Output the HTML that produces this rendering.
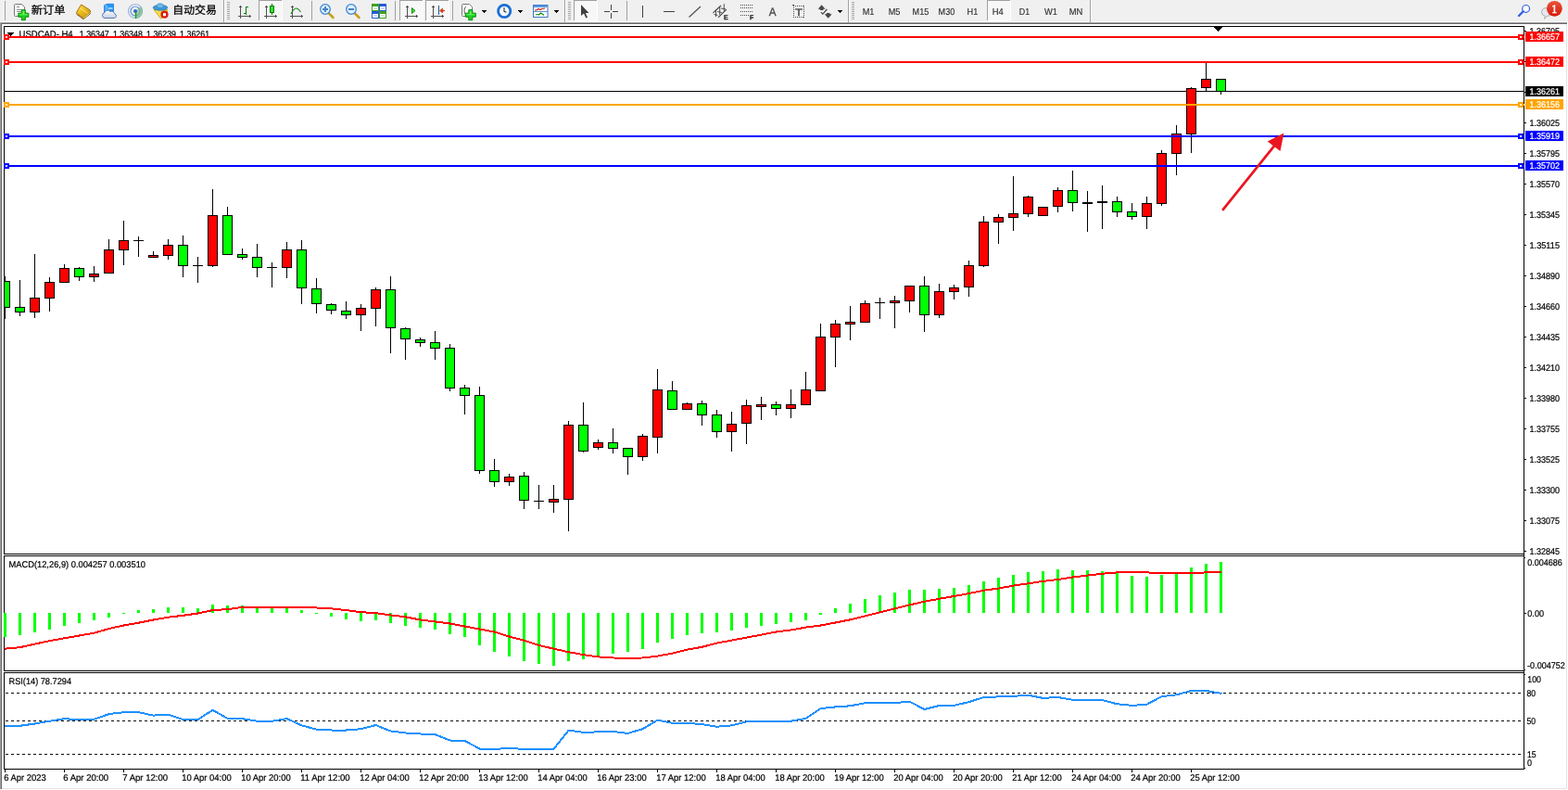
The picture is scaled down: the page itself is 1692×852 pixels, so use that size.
<!DOCTYPE html>
<html lang="zh-CN"><head><meta charset="utf-8"><title>USDCAD H4</title>
<style>
html,body{margin:0;padding:0;background:#fff;overflow:hidden}
body{width:1692px;height:852px;font-family:"Liberation Sans","Noto Sans CJK SC",sans-serif}
svg{display:block;position:absolute;left:0;top:0}
text{white-space:pre}
</style></head><body>
<svg width="1692" height="852" viewBox="0 0 1692 852">
<defs>
<pattern id="chk" width="2" height="2" patternUnits="userSpaceOnUse"><rect width="2" height="2" fill="#fff"/><rect width="1" height="1" fill="#f0f0f0"/><rect x="1" y="1" width="1" height="1" fill="#f0f0f0"/></pattern>
<linearGradient id="gold" x1="0" y1="0" x2="1" y2="1"><stop offset="0" stop-color="#f8e060"/><stop offset=".5" stop-color="#e8b818"/><stop offset="1" stop-color="#c08810"/></linearGradient>
<linearGradient id="cloud" x1="0" y1="0" x2="0" y2="1"><stop offset="0" stop-color="#fff"/><stop offset="1" stop-color="#c4d0e6"/></linearGradient>
<linearGradient id="redg" x1="0" y1="0" x2="0" y2="1"><stop offset="0" stop-color="#e8553a"/><stop offset="1" stop-color="#d81808"/></linearGradient>
</defs>
<rect width="1692" height="852" fill="#fff"/>
<g shape-rendering="crispEdges">
<rect x="0" y="0" width="1692" height="23" fill="#f0f0f0"/>
<rect x="0" y="23" width="1692" height="1" fill="#f7f7f7"/>
<rect x="0" y="24" width="1691" height="1" fill="#a0a0a0"/>
<rect x="1" y="25" width="1690" height="1" fill="#696969"/>
<rect x="5" y="1" width="1" height="21" fill="#a0a0a0"/>
<rect x="336" y="1" width="1" height="21" fill="#a0a0a0"/>
<rect x="426" y="1" width="1" height="21" fill="#a0a0a0"/>
<rect x="488" y="1" width="1" height="21" fill="#a0a0a0"/>
<rect x="676" y="1" width="1" height="21" fill="#a0a0a0"/>
<rect x="241" y="0" width="1" height="24" fill="#a0a0a0"/><rect x="242" y="0" width="1" height="24" fill="#fff"/>
<rect x="609" y="0" width="1" height="24" fill="#a0a0a0"/><rect x="610" y="0" width="1" height="24" fill="#fff"/>
<rect x="915" y="0" width="1" height="24" fill="#a0a0a0"/><rect x="916" y="0" width="1" height="24" fill="#fff"/>
<rect x="1176" y="0" width="1" height="24" fill="#a0a0a0"/><rect x="1177" y="0" width="1" height="24" fill="#fff"/>
<rect x="245" y="2" width="3" height="1" fill="#a8a8a8"/>
<rect x="245" y="4" width="3" height="1" fill="#a8a8a8"/>
<rect x="245" y="6" width="3" height="1" fill="#a8a8a8"/>
<rect x="245" y="8" width="3" height="1" fill="#a8a8a8"/>
<rect x="245" y="10" width="3" height="1" fill="#a8a8a8"/>
<rect x="245" y="12" width="3" height="1" fill="#a8a8a8"/>
<rect x="245" y="14" width="3" height="1" fill="#a8a8a8"/>
<rect x="245" y="16" width="3" height="1" fill="#a8a8a8"/>
<rect x="245" y="18" width="3" height="1" fill="#a8a8a8"/>
<rect x="245" y="20" width="3" height="1" fill="#a8a8a8"/>
<rect x="613" y="2" width="3" height="1" fill="#a8a8a8"/>
<rect x="613" y="4" width="3" height="1" fill="#a8a8a8"/>
<rect x="613" y="6" width="3" height="1" fill="#a8a8a8"/>
<rect x="613" y="8" width="3" height="1" fill="#a8a8a8"/>
<rect x="613" y="10" width="3" height="1" fill="#a8a8a8"/>
<rect x="613" y="12" width="3" height="1" fill="#a8a8a8"/>
<rect x="613" y="14" width="3" height="1" fill="#a8a8a8"/>
<rect x="613" y="16" width="3" height="1" fill="#a8a8a8"/>
<rect x="613" y="18" width="3" height="1" fill="#a8a8a8"/>
<rect x="613" y="20" width="3" height="1" fill="#a8a8a8"/>
<rect x="919" y="2" width="3" height="1" fill="#a8a8a8"/>
<rect x="919" y="4" width="3" height="1" fill="#a8a8a8"/>
<rect x="919" y="6" width="3" height="1" fill="#a8a8a8"/>
<rect x="919" y="8" width="3" height="1" fill="#a8a8a8"/>
<rect x="919" y="10" width="3" height="1" fill="#a8a8a8"/>
<rect x="919" y="12" width="3" height="1" fill="#a8a8a8"/>
<rect x="919" y="14" width="3" height="1" fill="#a8a8a8"/>
<rect x="919" y="16" width="3" height="1" fill="#a8a8a8"/>
<rect x="919" y="18" width="3" height="1" fill="#a8a8a8"/>
<rect x="919" y="20" width="3" height="1" fill="#a8a8a8"/>
<rect x="279" y="0" width="26" height="23" fill="url(#chk)"/>
<rect x="279" y="0" width="25" height="1" fill="#a0a0a0"/><rect x="279" y="0" width="1" height="22" fill="#a0a0a0"/>
<rect x="304" y="0" width="1" height="23" fill="#fff"/><rect x="279" y="22" width="26" height="1" fill="#fff"/>
<rect x="431" y="0" width="26" height="23" fill="url(#chk)"/>
<rect x="431" y="0" width="25" height="1" fill="#a0a0a0"/><rect x="431" y="0" width="1" height="22" fill="#a0a0a0"/>
<rect x="456" y="0" width="1" height="23" fill="#fff"/><rect x="431" y="22" width="26" height="1" fill="#fff"/>
<rect x="459" y="0" width="26" height="23" fill="url(#chk)"/>
<rect x="459" y="0" width="25" height="1" fill="#a0a0a0"/><rect x="459" y="0" width="1" height="22" fill="#a0a0a0"/>
<rect x="484" y="0" width="1" height="23" fill="#fff"/><rect x="459" y="22" width="26" height="1" fill="#fff"/>
<rect x="619" y="0" width="26" height="23" fill="url(#chk)"/>
<rect x="619" y="0" width="25" height="1" fill="#a0a0a0"/><rect x="619" y="0" width="1" height="22" fill="#a0a0a0"/>
<rect x="644" y="0" width="1" height="23" fill="#fff"/><rect x="619" y="22" width="26" height="1" fill="#fff"/>
<rect x="1065" y="0" width="26" height="23" fill="url(#chk)"/>
<rect x="1065" y="0" width="25" height="1" fill="#a0a0a0"/><rect x="1065" y="0" width="1" height="22" fill="#a0a0a0"/>
<rect x="1090" y="0" width="1" height="23" fill="#fff"/><rect x="1065" y="22" width="26" height="1" fill="#fff"/>
<rect x="259" y="7" width="1" height="13" fill="#505050"/><rect x="257" y="17" width="13" height="1" fill="#505050"/>
<rect x="258" y="7" width="3" height="1" fill="#505050"/><rect x="259" y="6" width="1" height="1" fill="#505050"/>
<rect x="269" y="16" width="1" height="3" fill="#505050"/><rect x="270" y="17" width="1" height="1" fill="#505050"/>
<rect x="287" y="7" width="1" height="13" fill="#505050"/><rect x="285" y="17" width="13" height="1" fill="#505050"/>
<rect x="286" y="7" width="3" height="1" fill="#505050"/><rect x="287" y="6" width="1" height="1" fill="#505050"/>
<rect x="297" y="16" width="1" height="3" fill="#505050"/><rect x="298" y="17" width="1" height="1" fill="#505050"/>
<rect x="315" y="7" width="1" height="13" fill="#505050"/><rect x="313" y="17" width="13" height="1" fill="#505050"/>
<rect x="314" y="7" width="3" height="1" fill="#505050"/><rect x="315" y="6" width="1" height="1" fill="#505050"/>
<rect x="325" y="16" width="1" height="3" fill="#505050"/><rect x="326" y="17" width="1" height="1" fill="#505050"/>
<rect x="439" y="7" width="1" height="13" fill="#505050"/><rect x="437" y="17" width="13" height="1" fill="#505050"/>
<rect x="438" y="7" width="3" height="1" fill="#505050"/><rect x="439" y="6" width="1" height="1" fill="#505050"/>
<rect x="449" y="16" width="1" height="3" fill="#505050"/><rect x="450" y="17" width="1" height="1" fill="#505050"/>
<rect x="467" y="7" width="1" height="13" fill="#505050"/><rect x="465" y="17" width="13" height="1" fill="#505050"/>
<rect x="466" y="7" width="3" height="1" fill="#505050"/><rect x="467" y="6" width="1" height="1" fill="#505050"/>
<rect x="477" y="16" width="1" height="3" fill="#505050"/><rect x="478" y="17" width="1" height="1" fill="#505050"/>
<rect x="265" y="7" width="1" height="9" fill="#008000"/><rect x="266" y="7" width="2" height="1" fill="#008000"/><rect x="263" y="14" width="2" height="1" fill="#008000"/>
<rect x="293" y="4" width="1" height="12" fill="#008000"/><rect x="291" y="6" width="5" height="8" fill="#008000"/><rect x="292" y="7" width="3" height="6" fill="#30e030"/>
<rect x="659" y="5" width="1" height="6" fill="#404040"/><rect x="659" y="14" width="1" height="6" fill="#404040"/><rect x="652" y="12" width="6" height="1" fill="#404040"/><rect x="661" y="12" width="6" height="1" fill="#404040"/>
<rect x="693" y="6" width="1" height="13" fill="#404040"/><rect x="716" y="12" width="12" height="1" fill="#404040"/>
<rect x="473" y="6" width="1" height="10" fill="#1060a0"/>
<rect x="799" y="5" width="1" height="1" fill="#505050"/>
<rect x="801" y="5" width="1" height="1" fill="#505050"/>
<rect x="803" y="5" width="1" height="1" fill="#505050"/>
<rect x="805" y="5" width="1" height="1" fill="#505050"/>
<rect x="807" y="5" width="1" height="1" fill="#505050"/>
<rect x="809" y="5" width="1" height="1" fill="#505050"/>
<rect x="811" y="5" width="1" height="1" fill="#505050"/>
<rect x="799" y="8" width="1" height="1" fill="#505050"/>
<rect x="801" y="8" width="1" height="1" fill="#505050"/>
<rect x="803" y="8" width="1" height="1" fill="#505050"/>
<rect x="805" y="8" width="1" height="1" fill="#505050"/>
<rect x="807" y="8" width="1" height="1" fill="#505050"/>
<rect x="809" y="8" width="1" height="1" fill="#505050"/>
<rect x="811" y="8" width="1" height="1" fill="#505050"/>
<rect x="799" y="12" width="1" height="1" fill="#505050"/>
<rect x="801" y="12" width="1" height="1" fill="#505050"/>
<rect x="803" y="12" width="1" height="1" fill="#505050"/>
<rect x="805" y="12" width="1" height="1" fill="#505050"/>
<rect x="807" y="12" width="1" height="1" fill="#505050"/>
<rect x="809" y="12" width="1" height="1" fill="#505050"/>
<rect x="811" y="12" width="1" height="1" fill="#505050"/>
<rect x="799" y="16" width="1" height="1" fill="#505050"/>
<rect x="801" y="16" width="1" height="1" fill="#505050"/>
<rect x="803" y="16" width="1" height="1" fill="#505050"/>
<rect x="805" y="16" width="1" height="1" fill="#505050"/>
<rect x="807" y="16" width="1" height="1" fill="#505050"/>
<rect x="856" y="6" width="1" height="1" fill="#505050"/><rect x="856" y="18" width="1" height="1" fill="#505050"/>
<rect x="858" y="6" width="1" height="1" fill="#505050"/><rect x="858" y="18" width="1" height="1" fill="#505050"/>
<rect x="860" y="6" width="1" height="1" fill="#505050"/><rect x="860" y="18" width="1" height="1" fill="#505050"/>
<rect x="862" y="6" width="1" height="1" fill="#505050"/><rect x="862" y="18" width="1" height="1" fill="#505050"/>
<rect x="864" y="6" width="1" height="1" fill="#505050"/><rect x="864" y="18" width="1" height="1" fill="#505050"/>
<rect x="866" y="6" width="1" height="1" fill="#505050"/><rect x="866" y="18" width="1" height="1" fill="#505050"/>
<rect x="856" y="6" width="1" height="1" fill="#505050"/><rect x="867" y="6" width="1" height="1" fill="#505050"/>
<rect x="856" y="8" width="1" height="1" fill="#505050"/><rect x="867" y="8" width="1" height="1" fill="#505050"/>
<rect x="856" y="10" width="1" height="1" fill="#505050"/><rect x="867" y="10" width="1" height="1" fill="#505050"/>
<rect x="856" y="12" width="1" height="1" fill="#505050"/><rect x="867" y="12" width="1" height="1" fill="#505050"/>
<rect x="856" y="14" width="1" height="1" fill="#505050"/><rect x="867" y="14" width="1" height="1" fill="#505050"/>
<rect x="856" y="16" width="1" height="1" fill="#505050"/><rect x="867" y="16" width="1" height="1" fill="#505050"/>
<rect x="856" y="18" width="1" height="1" fill="#505050"/><rect x="867" y="18" width="1" height="1" fill="#505050"/>
</g>
<path d="M520 11h5v1h-1v1h-1v1h-1v-1h-1v-1h-1z" fill="#000" shape-rendering="crispEdges"/>
<path d="M559 11h5v1h-1v1h-1v1h-1v-1h-1v-1h-1z" fill="#000" shape-rendering="crispEdges"/>
<path d="M598 11h5v1h-1v1h-1v1h-1v-1h-1v-1h-1z" fill="#000" shape-rendering="crispEdges"/>
<path d="M904 11h5v1h-1v1h-1v1h-1v-1h-1v-1h-1z" fill="#000" shape-rendering="crispEdges"/>
<path d="M15.5 5.5q0-1 1-1h7l3 3v9q0 1-1 1h-9q-1 0-1-1z" fill="#fff" stroke="#787878"/>
<path d="M18 7.5h3M18 10.5h6M18 12.5h5" stroke="#909090" fill="none"/>
<path d="M23.3 10.7h4v3.5h3.5v4h-3.5v3.5h-4v-3.5h-3.5v-4h3.5z" fill="#1fd21f" stroke="#0a8a0a" stroke-width="1"/>
<path d="M24.3 11.7h2v3.5h3.5v1h-9v-1h3.5z" fill="#7dff7d" opacity=".7"/>
<path d="M498.5 5.5q0-1 1-1h7l3 3v9q0 1-1 1h-9q-1 0-1-1z" fill="#fff" stroke="#787878"/>
<path d="M503 7.5q-1.5 0-1.5 1.5v1.5q0 1-1 1 1 0 1 1v1.5q0 1.5 1.5 1.5" stroke="#606050" fill="none" stroke-width="0.9"/>
<path d="M505.8 10.7h4v3.5h3.5v4h-3.5v3.5h-4v-3.5h-3.5v-4h3.5z" fill="#1fd21f" stroke="#0a8a0a" stroke-width="1"/>
<path d="M506.8 11.7h2v3.5h3.5v1h-9v-1h3.5z" fill="#7dff7d" opacity=".7"/>
<path d="M87.700 5Q84.5 9.5 82.3 14L90 19.6L97.700 13.2L96.8 10.700Z" fill="url(#gold)" stroke="#a8720c" stroke-width="1" stroke-linejoin="round"/><path d="M86.5 8.5L94.5 14.5" stroke="#fff4a0" stroke-width="1.4" opacity=".55" fill="none"/>
<path d="M82.5 15.2L90 20.700L98 14.3" fill="none" stroke="#8a5a08" stroke-width="1"/><path d="M90.2 19.700L97.5 13.8" fill="none" stroke="#f8e8b0" stroke-width=".8"/>
<path d="M112.5 5.5L116 4.3h6.5v10h-10z" fill="#2496f4" stroke="#1a78d8" stroke-width=".8"/><path d="M112.8 5.8L115.8 7v7" fill="none" stroke="#8fd0ff" stroke-width="1"/><path d="M113 5.5h2.5v8h-2.5z" fill="#5cb8ff" opacity=".7"/>
<path d="M117 9h4.5" stroke="#e8f6ff" stroke-width="1.2"/>
<path d="M113 19.5a2.9 2.9 0 0 1-.3-5.700a3.6 3.6 0 0 1 6.3-1.3a3.2 3.2 0 0 1 4.6 2.3a2.4 2.4 0 0 1-.2 4.700z" fill="url(#cloud)" stroke="#5a78b8" stroke-width="1"/>
<circle cx="146" cy="12" r="7.5" fill="none" stroke="#9ab8e0" stroke-width="1.2"/>
<circle cx="146" cy="12" r="5" fill="none" stroke="#6a94d8" stroke-width="1.2"/>
<path d="M146 12v8a8 8 0 0 0 8-8a8 8 0 0 0-2-5" fill="#6ab878" opacity=".6"/>
<circle cx="146" cy="12" r="2" fill="#2a62d0"/>
<path d="M146.5 13v7" stroke="#20a020" stroke-width="1.5"/>
<path d="M166 10.5h14.5l-.5 5-6.5 4.5z" fill="#f8dc48" stroke="#c89c10" stroke-width=".8"/>
<ellipse cx="173" cy="8.3" rx="7.8" ry="2.9" fill="#3f98d8" stroke="#2a78ae" stroke-width=".8"/><ellipse cx="172.8" cy="6.3" rx="3.8" ry="2.5" fill="#6fb8ea" stroke="#2f80b8" stroke-width=".6"/>
<circle cx="177.5" cy="15.700" r="4.1" fill="#d8200f"/><rect x="176" y="14.2" width="3" height="3" fill="#fff"/>
<path d="M314 15q3-6 5.5-6t5 4" fill="none" stroke="#1a8a1a" stroke-width="1.2"/>
<path d="M354.5 14l5 5" stroke="#c8a020" stroke-width="2.6" stroke-linecap="round"/>
<circle cx="351" cy="10" r="5.3" fill="#dff0ff" stroke="#3b86d8" stroke-width="1.3"/>
<rect x="348" y="9" width="6" height="2" fill="#4a84c0"/>
<rect x="350" y="7" width="2" height="6" fill="#4a84c0"/>
<path d="M382.5 14l5 5" stroke="#c8a020" stroke-width="2.6" stroke-linecap="round"/>
<circle cx="379" cy="10" r="5.3" fill="#dff0ff" stroke="#3b86d8" stroke-width="1.3"/>
<rect x="376" y="9" width="6" height="2" fill="#4a84c0"/>
<rect x="401" y="4" width="8" height="8" fill="#3fa020"/><rect x="402" y="7" width="6" height="4" fill="#fff"/><rect x="403" y="8.5" width="4" height="1" fill="#3fa020" opacity=".5"/>
<rect x="409" y="4" width="8" height="8" fill="#2a5ad8"/><rect x="410" y="7" width="6" height="4" fill="#fff"/><rect x="411" y="8.5" width="4" height="1" fill="#2a5ad8" opacity=".5"/>
<rect x="401" y="12" width="8" height="8" fill="#2a5ad8"/><rect x="402" y="15" width="6" height="4" fill="#fff"/><rect x="403" y="16.5" width="4" height="1" fill="#2a5ad8" opacity=".5"/>
<rect x="409" y="12" width="8" height="8" fill="#3fa020"/><rect x="410" y="15" width="6" height="4" fill="#fff"/><rect x="411" y="16.5" width="4" height="1" fill="#3fa020" opacity=".5"/>
<path d="M444.5 8.5l3.5 3-3.5 3z" fill="#40e040" stroke="#108a10" stroke-width="1"/>
<path d="M474.5 11.5l3-2.5v2h2v1h-2v2z" fill="#e04010" stroke="#c03000" stroke-width=".6"/>
<circle cx="544.2" cy="12" r="6.6" fill="#fafcff" stroke="#1a6fd6" stroke-width="2.8"/>
<path d="M544 8v4.3l2.5 1" stroke="#303030" stroke-width="1.1" fill="none"/>
<rect x="575.5" y="5.5" width="15.5" height="13" fill="#fff" stroke="#3a78c8" stroke-width="1"/>
<rect x="576" y="6" width="14.5" height="2" fill="#5a9ae0"/><path d="M576 12.5h15" stroke="#3a78c8" stroke-width=".8"/>
<path d="M577 11h2l2-1.5 2 1 2-1 3-.5" stroke="#c02010" stroke-width="1.2" fill="none"/>
<path d="M578 16l2-.5 1.5.5 2-2 1.5 1 2 1.5" stroke="#108a10" stroke-width="1.2" fill="none"/>
<path d="M627 5v12l3-2.5 2.3 5 1.700-.8-2.2-4.700h3.700z" fill="#404040"/>
<path d="M743.5 18.5l12.5-11.5" stroke="#505050" stroke-width="1.2"/>
<path d="M769.5 13.8L778 6M775 18.8L784 10.2" stroke="#404040" stroke-width="1.1" fill="none"/><path d="M772.5 10.5v7.5M776.700 8v8.2M781.3 4.2v8M770.5 15.5l4 1M774 12.5l5 1M778 9l5 .8" stroke="#404040" stroke-width=".9" fill="none"/>
<path d="M882.6 9.8L886.6 5.3L890.6 9.8h-2.2v1.2h-3.6v-1.2zM889.700 15.2h2.2v-1.2h3.6v1.2h2.2L893.700 19.700z" fill="#484848"/><path d="M885.8 13.2l2 2 4.6-5.2" stroke="#484848" stroke-width="1.2" fill="none"/>
<circle cx="1646.6" cy="9.4" r="3.9" fill="#fbfbff" stroke="#2a5fe0" stroke-width="1.2"/><path d="M1643.700 12.3l-4.700 4.700" stroke="#2a5fe0" stroke-width="2.3" stroke-linecap="round"/>
<path d="M1666.5 20.5l1-3q-4-1-4-4.5q0-4.5 6-4.5t6 4.5q0 4-6 4.3z" fill="#e6e7f0" stroke="#a8a8a8" stroke-width=".9"/>
<circle cx="1677.4" cy="9.3" r="8.4" fill="url(#redg)"/>
<g font-family="'Liberation Sans', 'Noto Sans CJK SC', sans-serif" text-rendering="geometricPrecision">
<text x="33.8" y="15.2" font-size="12" fill="#000" stroke="#000" stroke-width=".25" textLength="36.6" lengthAdjust="spacingAndGlyphs">新订单</text>
<text x="186.3" y="15.2" font-size="12" fill="#000" stroke="#000" stroke-width=".25" textLength="47.6" lengthAdjust="spacingAndGlyphs">自动交易</text>
<text x="930.7" y="16" font-size="10.2" fill="#303030" stroke="#303030" stroke-width=".15" textLength="12.7" lengthAdjust="spacingAndGlyphs">M1</text>
<text x="958.7" y="16" font-size="10.2" fill="#303030" stroke="#303030" stroke-width=".15" textLength="12.7" lengthAdjust="spacingAndGlyphs">M5</text>
<text x="984.6" y="16" font-size="10.2" fill="#303030" stroke="#303030" stroke-width=".15" textLength="17.7" lengthAdjust="spacingAndGlyphs">M15</text>
<text x="1012.6" y="16" font-size="10.2" fill="#303030" stroke="#303030" stroke-width=".15" textLength="17.7" lengthAdjust="spacingAndGlyphs">M30</text>
<text x="1043.6" y="16" font-size="10.2" fill="#303030" stroke="#303030" stroke-width=".15" textLength="11.7" lengthAdjust="spacingAndGlyphs">H1</text>
<text x="1070.7" y="16" font-size="10.2" fill="#303030" stroke="#303030" stroke-width=".15" textLength="12" lengthAdjust="spacingAndGlyphs">H4</text>
<text x="1099.8" y="16" font-size="10.2" fill="#303030" stroke="#303030" stroke-width=".15" textLength="11.3" lengthAdjust="spacingAndGlyphs">D1</text>
<text x="1127" y="16" font-size="10.2" fill="#303030" stroke="#303030" stroke-width=".15" textLength="14" lengthAdjust="spacingAndGlyphs">W1</text>
<text x="1153.7" y="16" font-size="10.2" fill="#303030" stroke="#303030" stroke-width=".15" textLength="14.6" lengthAdjust="spacingAndGlyphs">MN</text>
<text x="781" y="21" font-size="7" font-weight="bold" fill="#202020" stroke="#202020" stroke-width=".3">E</text>
<text x="809" y="21" font-size="7" font-weight="bold" fill="#202020" stroke="#202020" stroke-width=".3">F</text>
<text x="829.8" y="17" font-size="12.5" fill="#484848" stroke="#484848" stroke-width=".3" textLength="7.8" lengthAdjust="spacingAndGlyphs">A</text>
<rect x="855" y="5" width="2" height="1" fill="#505050"/><text x="858" y="16.5" font-size="10.8" fill="#404040" stroke="#404040" stroke-width=".3" textLength="8" lengthAdjust="spacingAndGlyphs">T</text>
<text x="1674" y="14" font-size="13" fill="#fff" stroke="#fff" stroke-width=".35" font-family="'Liberation Serif', serif">1</text>
</g>
<g shape-rendering="crispEdges">
<rect x="0" y="24" width="1" height="827" fill="#a0a0a0"/>
<rect x="1" y="25" width="1" height="826" fill="#696969"/>
<rect x="1690" y="26" width="1" height="825" fill="#e3e3e3"/>
<rect x="2" y="850" width="1689" height="1" fill="#e3e3e3"/>
<rect x="4" y="28" width="1641" height="1" fill="#000"/>
<rect x="4" y="597" width="1641" height="1" fill="#000"/>
<rect x="4" y="28" width="1" height="570" fill="#000"/>
<rect x="4" y="599" width="1641" height="1" fill="#000"/>
<rect x="4" y="723" width="1641" height="1" fill="#000"/>
<rect x="4" y="599" width="1" height="125" fill="#000"/>
<rect x="4" y="725" width="1641" height="1" fill="#000"/>
<rect x="4" y="829" width="1641" height="1" fill="#000"/>
<rect x="4" y="725" width="1" height="105" fill="#000"/>
<rect x="1644" y="28" width="1" height="802" fill="#000"/>
<rect x="1645" y="33" width="2" height="1" fill="#000"/>
<rect x="1645" y="66" width="2" height="1" fill="#000"/>
<rect x="1645" y="99" width="2" height="1" fill="#000"/>
<rect x="1645" y="132" width="2" height="1" fill="#000"/>
<rect x="1645" y="165" width="2" height="1" fill="#000"/>
<rect x="1645" y="198" width="2" height="1" fill="#000"/>
<rect x="1645" y="231" width="2" height="1" fill="#000"/>
<rect x="1645" y="264" width="2" height="1" fill="#000"/>
<rect x="1645" y="297" width="2" height="1" fill="#000"/>
<rect x="1645" y="330" width="2" height="1" fill="#000"/>
<rect x="1645" y="363" width="2" height="1" fill="#000"/>
<rect x="1645" y="396" width="2" height="1" fill="#000"/>
<rect x="1645" y="429" width="2" height="1" fill="#000"/>
<rect x="1645" y="462" width="2" height="1" fill="#000"/>
<rect x="1645" y="495" width="2" height="1" fill="#000"/>
<rect x="1645" y="528" width="2" height="1" fill="#000"/>
<rect x="1645" y="561" width="2" height="1" fill="#000"/>
<rect x="1645" y="594" width="2" height="1" fill="#000"/>
<rect x="1645" y="601" width="1" height="1" fill="#000"/>
<rect x="1645" y="661" width="2" height="1" fill="#000"/>
<rect x="1645" y="722" width="1" height="1" fill="#000"/>
<rect x="1645" y="727" width="1" height="1" fill="#000"/>
<rect x="1645" y="828" width="1" height="1" fill="#000"/>
<rect x="5" y="830" width="1" height="3" fill="#000"/>
<rect x="69" y="830" width="1" height="3" fill="#000"/>
<rect x="133" y="830" width="1" height="3" fill="#000"/>
<rect x="197" y="830" width="1" height="3" fill="#000"/>
<rect x="261" y="830" width="1" height="3" fill="#000"/>
<rect x="325" y="830" width="1" height="3" fill="#000"/>
<rect x="389" y="830" width="1" height="3" fill="#000"/>
<rect x="453" y="830" width="1" height="3" fill="#000"/>
<rect x="517" y="830" width="1" height="3" fill="#000"/>
<rect x="581" y="830" width="1" height="3" fill="#000"/>
<rect x="645" y="830" width="1" height="3" fill="#000"/>
<rect x="709" y="830" width="1" height="3" fill="#000"/>
<rect x="773" y="830" width="1" height="3" fill="#000"/>
<rect x="837" y="830" width="1" height="3" fill="#000"/>
<rect x="901" y="830" width="1" height="3" fill="#000"/>
<rect x="965" y="830" width="1" height="3" fill="#000"/>
<rect x="1029" y="830" width="1" height="3" fill="#000"/>
<rect x="1093" y="830" width="1" height="3" fill="#000"/>
<rect x="1157" y="830" width="1" height="3" fill="#000"/>
<rect x="1221" y="830" width="1" height="3" fill="#000"/>
<rect x="1285" y="830" width="1" height="3" fill="#000"/>
<rect x="5" y="98" width="1639" height="1" fill="#000"/>
<path d="M1310 29h9v1h-1v1h-1v1h-1v1h-1v1h-1v-1h-1v-1h-1v-1h-1v-1h-1z" fill="#000"/>
<rect x="5" y="298" width="1" height="46" fill="#000"/>
<rect x="5" y="303" width="6" height="29" fill="#000"/>
<rect x="5" y="304" width="5" height="27" fill="#0f0"/>
<rect x="21" y="302" width="1" height="39" fill="#000"/>
<rect x="16" y="331" width="11" height="6" fill="#000"/>
<rect x="17" y="332" width="9" height="4" fill="#0f0"/>
<rect x="37" y="274" width="1" height="69" fill="#000"/>
<rect x="32" y="321" width="11" height="16" fill="#000"/>
<rect x="33" y="322" width="9" height="14" fill="#f00"/>
<rect x="53" y="299" width="1" height="37" fill="#000"/>
<rect x="48" y="304" width="11" height="18" fill="#000"/>
<rect x="49" y="305" width="9" height="16" fill="#f00"/>
<rect x="69" y="285" width="1" height="20" fill="#000"/>
<rect x="64" y="289" width="11" height="16" fill="#000"/>
<rect x="65" y="290" width="9" height="14" fill="#f00"/>
<rect x="85" y="288" width="1" height="15" fill="#000"/>
<rect x="80" y="289" width="11" height="10" fill="#000"/>
<rect x="81" y="290" width="9" height="8" fill="#0f0"/>
<rect x="101" y="287" width="1" height="17" fill="#000"/>
<rect x="96" y="295" width="11" height="4" fill="#000"/>
<rect x="97" y="296" width="9" height="2" fill="#f00"/>
<rect x="117" y="258" width="1" height="37" fill="#000"/>
<rect x="112" y="269" width="11" height="26" fill="#000"/>
<rect x="113" y="270" width="9" height="24" fill="#f00"/>
<rect x="133" y="238" width="1" height="48" fill="#000"/>
<rect x="128" y="259" width="11" height="11" fill="#000"/>
<rect x="129" y="260" width="9" height="9" fill="#f00"/>
<rect x="149" y="255" width="1" height="22" fill="#000"/>
<rect x="144" y="259" width="11" height="1" fill="#000"/>
<rect x="165" y="271" width="1" height="7" fill="#000"/>
<rect x="160" y="275" width="11" height="3" fill="#000"/>
<rect x="161" y="276" width="9" height="1" fill="#f00"/>
<rect x="181" y="258" width="1" height="22" fill="#000"/>
<rect x="176" y="264" width="11" height="12" fill="#000"/>
<rect x="177" y="265" width="9" height="10" fill="#f00"/>
<rect x="197" y="254" width="1" height="45" fill="#000"/>
<rect x="192" y="264" width="11" height="23" fill="#000"/>
<rect x="193" y="265" width="9" height="21" fill="#0f0"/>
<rect x="213" y="277" width="1" height="28" fill="#000"/>
<rect x="208" y="286" width="11" height="1" fill="#000"/>
<rect x="229" y="204" width="1" height="84" fill="#000"/>
<rect x="224" y="232" width="11" height="55" fill="#000"/>
<rect x="225" y="233" width="9" height="53" fill="#f00"/>
<rect x="245" y="223" width="1" height="52" fill="#000"/>
<rect x="240" y="232" width="11" height="43" fill="#000"/>
<rect x="241" y="233" width="9" height="41" fill="#0f0"/>
<rect x="261" y="268" width="1" height="12" fill="#000"/>
<rect x="256" y="274" width="11" height="4" fill="#000"/>
<rect x="257" y="275" width="9" height="2" fill="#0f0"/>
<rect x="277" y="263" width="1" height="36" fill="#000"/>
<rect x="272" y="277" width="11" height="12" fill="#000"/>
<rect x="273" y="278" width="9" height="10" fill="#0f0"/>
<rect x="293" y="283" width="1" height="27" fill="#000"/>
<rect x="288" y="288" width="11" height="1" fill="#000"/>
<rect x="309" y="261" width="1" height="39" fill="#000"/>
<rect x="304" y="269" width="11" height="20" fill="#000"/>
<rect x="305" y="270" width="9" height="18" fill="#f00"/>
<rect x="325" y="259" width="1" height="69" fill="#000"/>
<rect x="320" y="269" width="11" height="42" fill="#000"/>
<rect x="321" y="270" width="9" height="40" fill="#0f0"/>
<rect x="341" y="300" width="1" height="38" fill="#000"/>
<rect x="336" y="311" width="11" height="17" fill="#000"/>
<rect x="337" y="312" width="9" height="15" fill="#0f0"/>
<rect x="357" y="327" width="1" height="12" fill="#000"/>
<rect x="352" y="328" width="11" height="7" fill="#000"/>
<rect x="353" y="329" width="9" height="5" fill="#0f0"/>
<rect x="373" y="325" width="1" height="19" fill="#000"/>
<rect x="368" y="335" width="11" height="5" fill="#000"/>
<rect x="369" y="336" width="9" height="3" fill="#0f0"/>
<rect x="389" y="328" width="1" height="29" fill="#000"/>
<rect x="384" y="332" width="11" height="8" fill="#000"/>
<rect x="385" y="333" width="9" height="6" fill="#f00"/>
<rect x="405" y="310" width="1" height="42" fill="#000"/>
<rect x="400" y="312" width="11" height="21" fill="#000"/>
<rect x="401" y="313" width="9" height="19" fill="#f00"/>
<rect x="421" y="298" width="1" height="83" fill="#000"/>
<rect x="416" y="312" width="11" height="42" fill="#000"/>
<rect x="417" y="313" width="9" height="40" fill="#0f0"/>
<rect x="437" y="353" width="1" height="35" fill="#000"/>
<rect x="432" y="354" width="11" height="12" fill="#000"/>
<rect x="433" y="355" width="9" height="10" fill="#0f0"/>
<rect x="453" y="364" width="1" height="10" fill="#000"/>
<rect x="448" y="366" width="11" height="4" fill="#000"/>
<rect x="449" y="367" width="9" height="2" fill="#0f0"/>
<rect x="469" y="357" width="1" height="31" fill="#000"/>
<rect x="464" y="369" width="11" height="7" fill="#000"/>
<rect x="465" y="370" width="9" height="5" fill="#0f0"/>
<rect x="485" y="371" width="1" height="51" fill="#000"/>
<rect x="480" y="375" width="11" height="44" fill="#000"/>
<rect x="481" y="376" width="9" height="42" fill="#0f0"/>
<rect x="501" y="415" width="1" height="32" fill="#000"/>
<rect x="496" y="418" width="11" height="9" fill="#000"/>
<rect x="497" y="419" width="9" height="7" fill="#0f0"/>
<rect x="517" y="417" width="1" height="94" fill="#000"/>
<rect x="512" y="426" width="11" height="82" fill="#000"/>
<rect x="513" y="427" width="9" height="80" fill="#0f0"/>
<rect x="533" y="495" width="1" height="30" fill="#000"/>
<rect x="528" y="507" width="11" height="13" fill="#000"/>
<rect x="529" y="508" width="9" height="11" fill="#0f0"/>
<rect x="549" y="511" width="1" height="13" fill="#000"/>
<rect x="544" y="514" width="11" height="6" fill="#000"/>
<rect x="545" y="515" width="9" height="4" fill="#f00"/>
<rect x="565" y="509" width="1" height="40" fill="#000"/>
<rect x="560" y="513" width="11" height="27" fill="#000"/>
<rect x="561" y="514" width="9" height="25" fill="#0f0"/>
<rect x="581" y="523" width="1" height="26" fill="#000"/>
<rect x="576" y="540" width="11" height="1" fill="#000"/>
<rect x="597" y="523" width="1" height="30" fill="#000"/>
<rect x="592" y="538" width="11" height="4" fill="#000"/>
<rect x="593" y="539" width="9" height="2" fill="#f00"/>
<rect x="613" y="454" width="1" height="119" fill="#000"/>
<rect x="608" y="458" width="11" height="81" fill="#000"/>
<rect x="609" y="459" width="9" height="79" fill="#f00"/>
<rect x="629" y="434" width="1" height="54" fill="#000"/>
<rect x="624" y="458" width="11" height="29" fill="#000"/>
<rect x="625" y="459" width="9" height="27" fill="#0f0"/>
<rect x="645" y="474" width="1" height="11" fill="#000"/>
<rect x="640" y="477" width="11" height="6" fill="#000"/>
<rect x="641" y="478" width="9" height="4" fill="#f00"/>
<rect x="661" y="462" width="1" height="27" fill="#000"/>
<rect x="656" y="477" width="11" height="7" fill="#000"/>
<rect x="657" y="478" width="9" height="5" fill="#0f0"/>
<rect x="677" y="483" width="1" height="29" fill="#000"/>
<rect x="672" y="483" width="11" height="10" fill="#000"/>
<rect x="673" y="484" width="9" height="8" fill="#0f0"/>
<rect x="693" y="468" width="1" height="29" fill="#000"/>
<rect x="688" y="470" width="11" height="23" fill="#000"/>
<rect x="689" y="471" width="9" height="21" fill="#f00"/>
<rect x="709" y="398" width="1" height="91" fill="#000"/>
<rect x="704" y="420" width="11" height="52" fill="#000"/>
<rect x="705" y="421" width="9" height="50" fill="#f00"/>
<rect x="725" y="411" width="1" height="31" fill="#000"/>
<rect x="720" y="421" width="11" height="21" fill="#000"/>
<rect x="721" y="422" width="9" height="19" fill="#0f0"/>
<rect x="741" y="434" width="1" height="8" fill="#000"/>
<rect x="736" y="435" width="11" height="7" fill="#000"/>
<rect x="737" y="436" width="9" height="5" fill="#f00"/>
<rect x="757" y="432" width="1" height="27" fill="#000"/>
<rect x="752" y="435" width="11" height="13" fill="#000"/>
<rect x="753" y="436" width="9" height="11" fill="#0f0"/>
<rect x="773" y="442" width="1" height="30" fill="#000"/>
<rect x="768" y="447" width="11" height="19" fill="#000"/>
<rect x="769" y="448" width="9" height="17" fill="#0f0"/>
<rect x="789" y="444" width="1" height="43" fill="#000"/>
<rect x="784" y="457" width="11" height="9" fill="#000"/>
<rect x="785" y="458" width="9" height="7" fill="#f00"/>
<rect x="805" y="431" width="1" height="48" fill="#000"/>
<rect x="800" y="437" width="11" height="20" fill="#000"/>
<rect x="801" y="438" width="9" height="18" fill="#f00"/>
<rect x="821" y="428" width="1" height="25" fill="#000"/>
<rect x="816" y="436" width="11" height="3" fill="#000"/>
<rect x="817" y="437" width="9" height="1" fill="#f00"/>
<rect x="837" y="433" width="1" height="15" fill="#000"/>
<rect x="832" y="436" width="11" height="5" fill="#000"/>
<rect x="833" y="437" width="9" height="3" fill="#0f0"/>
<rect x="853" y="420" width="1" height="31" fill="#000"/>
<rect x="848" y="436" width="11" height="5" fill="#000"/>
<rect x="849" y="437" width="9" height="3" fill="#f00"/>
<rect x="869" y="401" width="1" height="36" fill="#000"/>
<rect x="864" y="420" width="11" height="17" fill="#000"/>
<rect x="865" y="421" width="9" height="15" fill="#f00"/>
<rect x="885" y="349" width="1" height="73" fill="#000"/>
<rect x="880" y="363" width="11" height="59" fill="#000"/>
<rect x="881" y="364" width="9" height="57" fill="#f00"/>
<rect x="901" y="345" width="1" height="51" fill="#000"/>
<rect x="896" y="349" width="11" height="15" fill="#000"/>
<rect x="897" y="350" width="9" height="13" fill="#f00"/>
<rect x="917" y="330" width="1" height="37" fill="#000"/>
<rect x="912" y="347" width="11" height="3" fill="#000"/>
<rect x="913" y="348" width="9" height="1" fill="#f00"/>
<rect x="933" y="324" width="1" height="24" fill="#000"/>
<rect x="928" y="327" width="11" height="21" fill="#000"/>
<rect x="929" y="328" width="9" height="19" fill="#f00"/>
<rect x="949" y="321" width="1" height="23" fill="#000"/>
<rect x="944" y="326" width="11" height="1" fill="#000"/>
<rect x="965" y="319" width="1" height="35" fill="#000"/>
<rect x="960" y="324" width="11" height="3" fill="#000"/>
<rect x="961" y="325" width="9" height="1" fill="#f00"/>
<rect x="981" y="308" width="1" height="29" fill="#000"/>
<rect x="976" y="308" width="11" height="17" fill="#000"/>
<rect x="977" y="309" width="9" height="15" fill="#f00"/>
<rect x="997" y="298" width="1" height="60" fill="#000"/>
<rect x="992" y="308" width="11" height="32" fill="#000"/>
<rect x="993" y="309" width="9" height="30" fill="#0f0"/>
<rect x="1013" y="306" width="1" height="37" fill="#000"/>
<rect x="1008" y="314" width="11" height="26" fill="#000"/>
<rect x="1009" y="315" width="9" height="24" fill="#f00"/>
<rect x="1029" y="307" width="1" height="16" fill="#000"/>
<rect x="1024" y="310" width="11" height="5" fill="#000"/>
<rect x="1025" y="311" width="9" height="3" fill="#f00"/>
<rect x="1045" y="281" width="1" height="39" fill="#000"/>
<rect x="1040" y="286" width="11" height="24" fill="#000"/>
<rect x="1041" y="287" width="9" height="22" fill="#f00"/>
<rect x="1061" y="233" width="1" height="55" fill="#000"/>
<rect x="1056" y="239" width="11" height="48" fill="#000"/>
<rect x="1057" y="240" width="9" height="46" fill="#f00"/>
<rect x="1077" y="231" width="1" height="32" fill="#000"/>
<rect x="1072" y="234" width="11" height="6" fill="#000"/>
<rect x="1073" y="235" width="9" height="4" fill="#f00"/>
<rect x="1093" y="190" width="1" height="59" fill="#000"/>
<rect x="1088" y="230" width="11" height="5" fill="#000"/>
<rect x="1089" y="231" width="9" height="3" fill="#f00"/>
<rect x="1109" y="211" width="1" height="23" fill="#000"/>
<rect x="1104" y="212" width="11" height="19" fill="#000"/>
<rect x="1105" y="213" width="9" height="17" fill="#f00"/>
<rect x="1125" y="223" width="1" height="10" fill="#000"/>
<rect x="1120" y="223" width="11" height="10" fill="#000"/>
<rect x="1121" y="224" width="9" height="8" fill="#f00"/>
<rect x="1141" y="202" width="1" height="27" fill="#000"/>
<rect x="1136" y="205" width="11" height="18" fill="#000"/>
<rect x="1137" y="206" width="9" height="16" fill="#f00"/>
<rect x="1157" y="184" width="1" height="44" fill="#000"/>
<rect x="1152" y="205" width="11" height="14" fill="#000"/>
<rect x="1153" y="206" width="9" height="12" fill="#0f0"/>
<rect x="1173" y="206" width="1" height="44" fill="#000"/>
<rect x="1168" y="218" width="11" height="2" fill="#000"/>
<rect x="1189" y="200" width="1" height="47" fill="#000"/>
<rect x="1184" y="217" width="11" height="2" fill="#000"/>
<rect x="1205" y="212" width="1" height="22" fill="#000"/>
<rect x="1200" y="217" width="11" height="12" fill="#000"/>
<rect x="1201" y="218" width="9" height="10" fill="#0f0"/>
<rect x="1221" y="219" width="1" height="18" fill="#000"/>
<rect x="1216" y="228" width="11" height="6" fill="#000"/>
<rect x="1217" y="229" width="9" height="4" fill="#0f0"/>
<rect x="1237" y="212" width="1" height="35" fill="#000"/>
<rect x="1232" y="219" width="11" height="15" fill="#000"/>
<rect x="1233" y="220" width="9" height="13" fill="#f00"/>
<rect x="1253" y="162" width="1" height="60" fill="#000"/>
<rect x="1248" y="165" width="11" height="55" fill="#000"/>
<rect x="1249" y="166" width="9" height="53" fill="#f00"/>
<rect x="1269" y="135" width="1" height="54" fill="#000"/>
<rect x="1264" y="144" width="11" height="22" fill="#000"/>
<rect x="1265" y="145" width="9" height="20" fill="#f00"/>
<rect x="1285" y="94" width="1" height="71" fill="#000"/>
<rect x="1280" y="95" width="11" height="50" fill="#000"/>
<rect x="1281" y="96" width="9" height="48" fill="#f00"/>
<rect x="1301" y="66" width="1" height="33" fill="#000"/>
<rect x="1296" y="85" width="11" height="10" fill="#000"/>
<rect x="1297" y="86" width="9" height="8" fill="#f00"/>
<rect x="1317" y="85" width="1" height="17" fill="#000"/>
<rect x="1312" y="85" width="11" height="14" fill="#000"/>
<rect x="1313" y="86" width="9" height="12" fill="#0f0"/>
</g>
<g font-family="'Liberation Sans', sans-serif" font-size="9.8" text-rendering="geometricPrecision" stroke="#000" stroke-width=".22">
<path d="M8 35h7v1h-1v1h-1v1h-1v1h-1v-1h-1v-1h-1v-1h-1z" fill="#000" stroke="none" shape-rendering="crispEdges"/>
<text x="20.6" y="40" textLength="58" lengthAdjust="spacingAndGlyphs">USDCAD-,H4</text>
<text x="85.8" y="40" textLength="32" lengthAdjust="spacingAndGlyphs">1.36347</text>
<text x="121.9" y="40" textLength="32" lengthAdjust="spacingAndGlyphs">1.36348</text>
<text x="158.0" y="40" textLength="32" lengthAdjust="spacingAndGlyphs">1.36239</text>
<text x="194.10000000000002" y="40" textLength="32" lengthAdjust="spacingAndGlyphs">1.36261</text>
</g>
<g shape-rendering="crispEdges">
<rect x="4" y="39" width="1641" height="2" fill="#f00"/>
<rect x="4" y="37" width="6" height="6" fill="#f00"/>
<rect x="6" y="39" width="2" height="2" fill="#fff"/>
<rect x="1638" y="37" width="6" height="6" fill="#f00"/>
<rect x="1640" y="39" width="2" height="2" fill="#fff"/>
<rect x="4" y="66" width="1641" height="2" fill="#f00"/>
<rect x="4" y="64" width="6" height="6" fill="#f00"/>
<rect x="6" y="66" width="2" height="2" fill="#fff"/>
<rect x="1638" y="64" width="6" height="6" fill="#f00"/>
<rect x="1640" y="66" width="2" height="2" fill="#fff"/>
<rect x="4" y="112" width="1641" height="2" fill="#ffa500"/>
<rect x="4" y="110" width="6" height="6" fill="#ffa500"/>
<rect x="6" y="112" width="2" height="2" fill="#fff"/>
<rect x="1638" y="110" width="6" height="6" fill="#ffa500"/>
<rect x="1640" y="112" width="2" height="2" fill="#fff"/>
<rect x="4" y="146" width="1641" height="2" fill="#00f"/>
<rect x="4" y="144" width="6" height="6" fill="#00f"/>
<rect x="6" y="146" width="2" height="2" fill="#fff"/>
<rect x="1638" y="144" width="6" height="6" fill="#00f"/>
<rect x="1640" y="146" width="2" height="2" fill="#fff"/>
<rect x="4" y="178" width="1641" height="2" fill="#00f"/>
<rect x="4" y="176" width="6" height="6" fill="#00f"/>
<rect x="6" y="178" width="2" height="2" fill="#fff"/>
<rect x="1638" y="176" width="6" height="6" fill="#00f"/>
<rect x="1640" y="178" width="2" height="2" fill="#fff"/>
<rect x="4" y="661" width="3" height="26" fill="#0f0"/>
<rect x="20" y="661" width="3" height="24" fill="#0f0"/>
<rect x="36" y="661" width="3" height="21" fill="#0f0"/>
<rect x="52" y="661" width="3" height="18" fill="#0f0"/>
<rect x="68" y="661" width="3" height="14" fill="#0f0"/>
<rect x="84" y="661" width="3" height="11" fill="#0f0"/>
<rect x="100" y="661" width="3" height="8" fill="#0f0"/>
<rect x="116" y="661" width="3" height="5" fill="#0f0"/>
<rect x="132" y="661" width="3" height="1" fill="#0f0"/>
<rect x="340" y="661" width="3" height="1" fill="#0f0"/>
<rect x="356" y="661" width="3" height="4" fill="#0f0"/>
<rect x="372" y="661" width="3" height="7" fill="#0f0"/>
<rect x="388" y="661" width="3" height="9" fill="#0f0"/>
<rect x="404" y="661" width="3" height="8" fill="#0f0"/>
<rect x="420" y="661" width="3" height="11" fill="#0f0"/>
<rect x="436" y="661" width="3" height="14" fill="#0f0"/>
<rect x="452" y="661" width="3" height="16" fill="#0f0"/>
<rect x="468" y="661" width="3" height="18" fill="#0f0"/>
<rect x="484" y="661" width="3" height="23" fill="#0f0"/>
<rect x="500" y="661" width="3" height="26" fill="#0f0"/>
<rect x="516" y="661" width="3" height="35" fill="#0f0"/>
<rect x="532" y="661" width="3" height="42" fill="#0f0"/>
<rect x="548" y="661" width="3" height="47" fill="#0f0"/>
<rect x="564" y="661" width="3" height="52" fill="#0f0"/>
<rect x="580" y="661" width="3" height="55" fill="#0f0"/>
<rect x="596" y="661" width="3" height="57" fill="#0f0"/>
<rect x="612" y="661" width="3" height="52" fill="#0f0"/>
<rect x="628" y="661" width="3" height="50" fill="#0f0"/>
<rect x="644" y="661" width="3" height="48" fill="#0f0"/>
<rect x="660" y="661" width="3" height="44" fill="#0f0"/>
<rect x="676" y="661" width="3" height="42" fill="#0f0"/>
<rect x="692" y="661" width="3" height="39" fill="#0f0"/>
<rect x="708" y="661" width="3" height="32" fill="#0f0"/>
<rect x="724" y="661" width="3" height="28" fill="#0f0"/>
<rect x="740" y="661" width="3" height="24" fill="#0f0"/>
<rect x="756" y="661" width="3" height="22" fill="#0f0"/>
<rect x="772" y="661" width="3" height="21" fill="#0f0"/>
<rect x="788" y="661" width="3" height="19" fill="#0f0"/>
<rect x="804" y="661" width="3" height="16" fill="#0f0"/>
<rect x="820" y="661" width="3" height="14" fill="#0f0"/>
<rect x="836" y="661" width="3" height="12" fill="#0f0"/>
<rect x="852" y="661" width="3" height="10" fill="#0f0"/>
<rect x="868" y="661" width="3" height="8" fill="#0f0"/>
<rect x="884" y="661" width="3" height="2" fill="#0f0"/>
<rect x="148" y="658" width="3" height="3" fill="#0f0"/>
<rect x="164" y="657" width="3" height="4" fill="#0f0"/>
<rect x="180" y="655" width="3" height="6" fill="#0f0"/>
<rect x="196" y="655" width="3" height="6" fill="#0f0"/>
<rect x="212" y="656" width="3" height="5" fill="#0f0"/>
<rect x="228" y="652" width="3" height="9" fill="#0f0"/>
<rect x="244" y="653" width="3" height="8" fill="#0f0"/>
<rect x="260" y="653" width="3" height="8" fill="#0f0"/>
<rect x="276" y="655" width="3" height="6" fill="#0f0"/>
<rect x="292" y="655" width="3" height="6" fill="#0f0"/>
<rect x="308" y="655" width="3" height="6" fill="#0f0"/>
<rect x="324" y="658" width="3" height="3" fill="#0f0"/>
<rect x="900" y="656" width="3" height="5" fill="#0f0"/>
<rect x="916" y="651" width="3" height="10" fill="#0f0"/>
<rect x="932" y="646" width="3" height="15" fill="#0f0"/>
<rect x="948" y="642" width="3" height="19" fill="#0f0"/>
<rect x="964" y="639" width="3" height="22" fill="#0f0"/>
<rect x="980" y="636" width="3" height="25" fill="#0f0"/>
<rect x="996" y="636" width="3" height="25" fill="#0f0"/>
<rect x="1012" y="635" width="3" height="26" fill="#0f0"/>
<rect x="1028" y="634" width="3" height="27" fill="#0f0"/>
<rect x="1044" y="631" width="3" height="30" fill="#0f0"/>
<rect x="1060" y="627" width="3" height="34" fill="#0f0"/>
<rect x="1076" y="623" width="3" height="38" fill="#0f0"/>
<rect x="1092" y="620" width="3" height="41" fill="#0f0"/>
<rect x="1108" y="617" width="3" height="44" fill="#0f0"/>
<rect x="1124" y="616" width="3" height="45" fill="#0f0"/>
<rect x="1140" y="614" width="3" height="47" fill="#0f0"/>
<rect x="1156" y="615" width="3" height="46" fill="#0f0"/>
<rect x="1172" y="615" width="3" height="46" fill="#0f0"/>
<rect x="1188" y="616" width="3" height="45" fill="#0f0"/>
<rect x="1204" y="618" width="3" height="43" fill="#0f0"/>
<rect x="1220" y="621" width="3" height="40" fill="#0f0"/>
<rect x="1236" y="622" width="3" height="39" fill="#0f0"/>
<rect x="1252" y="620" width="3" height="41" fill="#0f0"/>
<rect x="1268" y="618" width="3" height="43" fill="#0f0"/>
<rect x="1284" y="612" width="3" height="49" fill="#0f0"/>
<rect x="1300" y="608" width="3" height="53" fill="#0f0"/>
<rect x="1316" y="606" width="3" height="55" fill="#0f0"/>
<polyline points="5,699.7 21.5,698.2 37.5,694.6 53.5,691.2 69.5,688.3 85.5,685.5 101.5,682.7 117.5,678 133.5,674.5 149.5,671.7 165.5,668.5 181.5,665.7 197.5,663.8 213.5,661.5 229.5,658.1 245.5,657.1 261.5,654.9 277.5,654.9 293.5,654.9 309.5,654.9 325.5,654.9 341.5,655.5 357.5,656.3 373.5,658.1 389.5,660.2 405.5,661.1 421.5,663.4 437.5,665.3 453.5,668.5 469.5,670.4 485.5,672.5 501.5,675.5 517.5,678.5 533.5,681.5 549.5,686.5 565.5,690.8 581.5,695.9 597.5,699.7 613.5,703.2 629.5,706.1 645.5,708.4 661.5,709.5 677.5,709.7 693.5,709.5 709.5,707.6 725.5,704.6 741.5,700.6 757.5,697.8 773.5,693.6 789.5,690.6 805.5,687.6 821.5,684.6 837.5,681.5 853.5,679.5 869.5,676.6 885.5,674.5 901.5,671.5 917.5,668.3 933.5,664.3 949.5,660.4 965.5,656.4 981.5,652.4 997.5,648.8 1013.5,645.8 1029.5,643 1045.5,640.1 1061.5,636.7 1077.5,634.6 1093.5,631.6 1109.5,629.3 1125.5,626.9 1141.5,625 1157.5,622.5 1173.5,620.6 1189.5,618.7 1205.5,617.4 1221.5,617 1237.5,617.4 1253.5,618 1269.5,618 1285.5,618 1301.5,617.4 1318.5,617" fill="none" stroke="#f00" stroke-width="2" stroke-linejoin="round"/>
<line x1="6" y1="747.5" x2="1644" y2="747.5" stroke="#000" stroke-dasharray="3 3"/>
<line x1="6" y1="777.5" x2="1644" y2="777.5" stroke="#000" stroke-dasharray="3 3"/>
<line x1="6" y1="813.5" x2="1644" y2="813.5" stroke="#000" stroke-dasharray="3 3"/>
<polyline points="5,782.8 21.5,782.8 37.5,780.5 53.5,777.7 69.5,775.2 85.5,776.2 101.5,775.8 117.5,770.1 133.5,768.2 149.5,768.2 165.5,771.6 181.5,770.7 197.5,776 213.5,776 229.5,765.8 245.5,774.8 261.5,775.2 277.5,777.7 293.5,777.7 309.5,775.1 325.5,782.4 341.5,786.6 357.5,787.5 373.5,787.5 389.5,786.2 405.5,782 421.5,788.5 437.5,790.5 453.5,791.5 469.5,792.1 485.5,798.5 501.5,798.9 517.5,807.6 533.5,807.9 549.5,807 565.5,807.9 581.5,807.9 597.5,807.9 613.5,787.7 629.5,789.8 645.5,789.4 661.5,789 677.5,790.9 693.5,786.2 709.5,776.7 725.5,779.8 741.5,779.8 757.5,781.1 773.5,783.7 789.5,782.4 805.5,778.3 821.5,777.7 837.5,777.9 853.5,777.7 869.5,774.8 885.5,764.1 901.5,762.4 917.5,761.3 933.5,758.2 949.5,758 965.5,758 981.5,756.7 997.5,765 1013.5,761 1029.5,760.9 1045.5,757.1 1061.5,752 1077.5,751.4 1093.5,750.8 1109.5,749.7 1125.5,752.9 1141.5,752 1157.5,754.8 1173.5,754.8 1189.5,755 1205.5,759.3 1221.5,760.9 1237.5,759.7 1253.5,751.2 1269.5,749.3 1285.5,745 1301.5,745 1318.5,748" fill="none" stroke="#1e90ff" stroke-width="2" stroke-linejoin="round"/>
</g>
<path d="M1319.1 226.800L1375 157.3" stroke="#ea1520" stroke-width="2.7" fill="none"/>
<path d="M1385.4 143.5L1367.7 152.6L1381.5 162.9z" fill="#ea1520"/>
<g font-family="'Liberation Sans', sans-serif" font-size="9.8" text-rendering="geometricPrecision" stroke="#000" stroke-width=".22">
<text x="1650.5" y="37" textLength="32.5" lengthAdjust="spacingAndGlyphs">1.36705</text>
<text x="1650.5" y="136" textLength="32.5" lengthAdjust="spacingAndGlyphs">1.36025</text>
<text x="1650.5" y="169" textLength="32.5" lengthAdjust="spacingAndGlyphs">1.35795</text>
<text x="1650.5" y="202" textLength="32.5" lengthAdjust="spacingAndGlyphs">1.35570</text>
<text x="1650.5" y="235" textLength="32.5" lengthAdjust="spacingAndGlyphs">1.35345</text>
<text x="1650.5" y="268" textLength="32.5" lengthAdjust="spacingAndGlyphs">1.35115</text>
<text x="1650.5" y="301" textLength="32.5" lengthAdjust="spacingAndGlyphs">1.34890</text>
<text x="1650.5" y="334" textLength="32.5" lengthAdjust="spacingAndGlyphs">1.34660</text>
<text x="1650.5" y="367" textLength="32.5" lengthAdjust="spacingAndGlyphs">1.34435</text>
<text x="1650.5" y="400" textLength="32.5" lengthAdjust="spacingAndGlyphs">1.34210</text>
<text x="1650.5" y="433" textLength="32.5" lengthAdjust="spacingAndGlyphs">1.33980</text>
<text x="1650.5" y="466" textLength="32.5" lengthAdjust="spacingAndGlyphs">1.33755</text>
<text x="1650.5" y="499" textLength="32.5" lengthAdjust="spacingAndGlyphs">1.33525</text>
<text x="1650.5" y="532" textLength="32.5" lengthAdjust="spacingAndGlyphs">1.33300</text>
<text x="1650.5" y="565" textLength="32.5" lengthAdjust="spacingAndGlyphs">1.33075</text>
<text x="1650.5" y="598" textLength="32.5" lengthAdjust="spacingAndGlyphs">1.32845</text>
<g shape-rendering="crispEdges" stroke="none">
<rect x="1646" y="34" width="41" height="11" fill="#f00"/>
<rect x="1646" y="61" width="41" height="11" fill="#f00"/>
<rect x="1646" y="93" width="41" height="11" fill="#000"/>
<rect x="1646" y="107" width="41" height="11" fill="#ffa500"/>
<rect x="1646" y="141" width="41" height="11" fill="#00f"/>
<rect x="1646" y="173" width="41" height="11" fill="#00f"/>
</g>
<text x="1650.5" y="43" fill="#fff" textLength="32.5" lengthAdjust="spacingAndGlyphs" stroke="#fff">1.36657</text>
<text x="1650.5" y="70" fill="#fff" textLength="32.5" lengthAdjust="spacingAndGlyphs" stroke="#fff">1.36472</text>
<text x="1650.5" y="102" fill="#fff" textLength="32.5" lengthAdjust="spacingAndGlyphs" stroke="#fff">1.36261</text>
<text x="1650.5" y="116" fill="#fff" textLength="32.5" lengthAdjust="spacingAndGlyphs" stroke="#fff">1.36156</text>
<text x="1650.5" y="150" fill="#fff" textLength="32.5" lengthAdjust="spacingAndGlyphs" stroke="#fff">1.35919</text>
<text x="1650.5" y="182" fill="#fff" textLength="32.5" lengthAdjust="spacingAndGlyphs" stroke="#fff">1.35702</text>
<text x="1648.3" y="610" textLength="37.6" lengthAdjust="spacingAndGlyphs">0.004686</text>
<text x="1648.3" y="665" textLength="17.7" lengthAdjust="spacingAndGlyphs">0.00</text>
<text x="1648.1" y="720.5" textLength="40.7" lengthAdjust="spacingAndGlyphs">-0.004752</text>
<text x="1648.3" y="736" textLength="14.7" lengthAdjust="spacingAndGlyphs">100</text>
<text x="1647.4" y="751" textLength="9.6" lengthAdjust="spacingAndGlyphs">80</text>
<text x="1647.4" y="781" textLength="9.6" lengthAdjust="spacingAndGlyphs">50</text>
<text x="1647.9" y="817" textLength="9.6" lengthAdjust="spacingAndGlyphs">15</text>
<text x="1647.9" y="826" textLength="5" lengthAdjust="spacingAndGlyphs">0</text>
<text x="9.5" y="612" textLength="147.5" lengthAdjust="spacingAndGlyphs">MACD(12,26,9) 0.004257 0.003510</text>
<text x="9.5" y="738" textLength="67.5" lengthAdjust="spacingAndGlyphs">RSI(14) 78.7294</text>
<text x="4.2" y="842" textLength="45.5" lengthAdjust="spacingAndGlyphs">6 Apr 2023</text>
<text x="68.2" y="842" textLength="49" lengthAdjust="spacingAndGlyphs">6 Apr 20:00</text>
<text x="132.2" y="842" textLength="49" lengthAdjust="spacingAndGlyphs">7 Apr 12:00</text>
<text x="196.2" y="842" textLength="53.5" lengthAdjust="spacingAndGlyphs">10 Apr 04:00</text>
<text x="260.2" y="842" textLength="53.5" lengthAdjust="spacingAndGlyphs">10 Apr 20:00</text>
<text x="324.2" y="842" textLength="53.5" lengthAdjust="spacingAndGlyphs">11 Apr 12:00</text>
<text x="388.2" y="842" textLength="53.5" lengthAdjust="spacingAndGlyphs">12 Apr 04:00</text>
<text x="452.2" y="842" textLength="53.5" lengthAdjust="spacingAndGlyphs">12 Apr 20:00</text>
<text x="516.2" y="842" textLength="53.5" lengthAdjust="spacingAndGlyphs">13 Apr 12:00</text>
<text x="580.2" y="842" textLength="53.5" lengthAdjust="spacingAndGlyphs">14 Apr 04:00</text>
<text x="644.2" y="842" textLength="53.5" lengthAdjust="spacingAndGlyphs">16 Apr 23:00</text>
<text x="708.2" y="842" textLength="53.5" lengthAdjust="spacingAndGlyphs">17 Apr 12:00</text>
<text x="772.2" y="842" textLength="53.5" lengthAdjust="spacingAndGlyphs">18 Apr 04:00</text>
<text x="836.2" y="842" textLength="53.5" lengthAdjust="spacingAndGlyphs">18 Apr 20:00</text>
<text x="900.2" y="842" textLength="53.5" lengthAdjust="spacingAndGlyphs">19 Apr 12:00</text>
<text x="964.2" y="842" textLength="53.5" lengthAdjust="spacingAndGlyphs">20 Apr 04:00</text>
<text x="1028.2" y="842" textLength="53.5" lengthAdjust="spacingAndGlyphs">20 Apr 20:00</text>
<text x="1092.2" y="842" textLength="53.5" lengthAdjust="spacingAndGlyphs">21 Apr 12:00</text>
<text x="1156.2" y="842" textLength="53.5" lengthAdjust="spacingAndGlyphs">24 Apr 04:00</text>
<text x="1220.2" y="842" textLength="53.5" lengthAdjust="spacingAndGlyphs">24 Apr 20:00</text>
<text x="1284.2" y="842" textLength="53.5" lengthAdjust="spacingAndGlyphs">25 Apr 12:00</text>
</g>
</svg>
</body></html>
